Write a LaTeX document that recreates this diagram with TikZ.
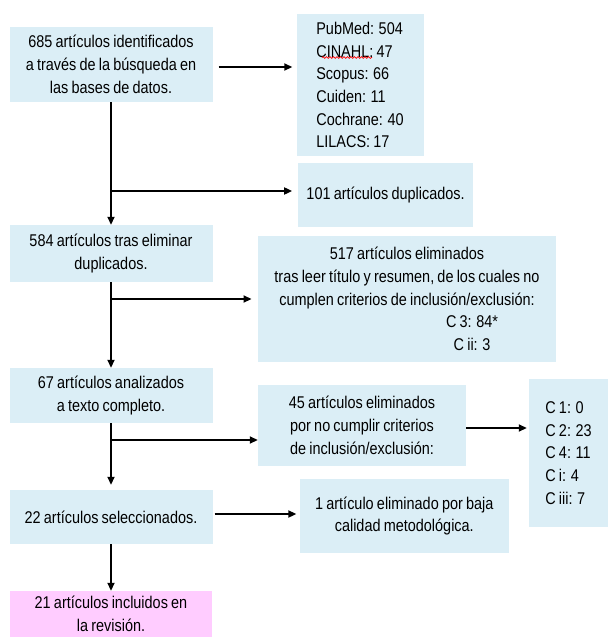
\documentclass[tikz,border=0pt]{standalone}
\usepackage{fontspec}
\setmainfont[FakeStretch=0.85, WordSpace=0.8]{Liberation Sans}
\usetikzlibrary{arrows.meta, decorations.pathmorphing}
\usepackage{xcolor}
\definecolor{boxblue}{RGB}{219,238,246}
\definecolor{boxpink}{RGB}{255,204,255}

\begin{document}
\begin{tikzpicture}[
  x=1pt, y=-1pt,
  box/.style={rectangle, fill=boxblue, inner sep=0pt, align=center,
              font=\fontsize{17pt}{22.7pt}\selectfont},
  arrow/.style={-{Triangle[length=8pt, width=7pt]}, line width=1.7pt}
]
  \useasboundingbox (0,0) rectangle (608,637);
  \node[box, minimum width=203pt, minimum height=75pt] (ident) at (111,64.5)
    {685 artículos identificados\\ a través de la búsqueda en\\ las bases de datos.};
  \node[box, align=left, minimum width=127pt, minimum height=142pt] (bases) at (360,85)
    {PubMed: 504\\ CINAHL: 47\\ Scopus: 66\\ Cuiden: 11\\ Cochrane: 40\\ LILACS: 17};
  \node[box, minimum width=174.5pt, minimum height=64pt] (dupl) at (385.6,195)
    {101 artículos duplicados.};
  \node[box, minimum width=203pt, minimum height=57pt] (tras) at (111,253.5)
    {584 artículos tras eliminar\\ duplicados.};
  \node[box, minimum width=297.5pt, minimum height=126pt] (elim517) at (407,299)
    {517 artículos eliminados\\ tras leer título y resumen, de los cuales no\\
     cumplen criterios de inclusión/exclusión:\\
     \hspace*{130pt}C 3: 84*\\ \hspace*{130pt}C ii: 3};
  \node[box, minimum width=203pt, minimum height=55pt] (texto) at (111,395.5)
    {67 artículos analizados\\ a texto completo.};
  \node[box, minimum width=208pt, minimum height=81pt] (elim45) at (362,425.5)
    {45 artículos eliminados\\ por no cumplir criterios\\ de inclusión/exclusión:};
  \node[box, align=left, minimum width=79pt, minimum height=148pt] (crit) at (568.5,453)
    {C 1: 0\\ C 2: 23\\ C 4: 11\\ C i: 4\\ C iii: 7};
  \node[box, minimum width=203pt, minimum height=54pt] (selec) at (111,517)
    {22 artículos seleccionados.};
  \node[box, minimum width=209.5pt, minimum height=74pt] (calidad) at (404.3,516)
    {1 artículo eliminado por baja\\ calidad metodológica.};
  \node[box, fill=boxpink, minimum width=202pt, minimum height=46pt] (incl) at (111,614)
    {21 artículos incluidos en\\ la revisión.};

  % spell-check mark under CINAHL
  \draw[red, line width=0.7pt, decorate,
        decoration={snake, amplitude=0.9pt, segment length=3.5pt}] (322,57.5) -- (372,57.5);

  \coordinate (d1) at ([yshift=4pt]dupl.west);
  \coordinate (b45) at ([yshift=-14.5pt]elim45.west);

  \draw[arrow, shorten <=6pt, shorten >=4pt] ([yshift=-2.5pt]ident.east) -- ([yshift=-2.5pt]ident.east -| bases.west);
  \draw[arrow] (ident.south) -- (tras.north);
  \draw[arrow, shorten >=6pt] (ident.south |- d1) -- (d1);
  \draw[arrow, shorten >=6.5pt] (tras.south |- elim517.west) -- (elim517.west);
  \draw[arrow] (tras.south) -- (texto.north);
  \draw[arrow] (texto.south |- b45) -- (b45);
  \draw[arrow, shorten >=2pt] ([yshift=-2.5pt]elim45.east) -- ([yshift=-2.5pt]elim45.east -| crit.west);
  \draw[arrow, shorten >=5pt] (texto.south) -- (selec.north);
  \draw[arrow, shorten <=2pt, shorten >=3pt] ([yshift=3pt]selec.east) -- ([yshift=3pt]selec.east -| calidad.west);
  \draw[arrow] (selec.south) -- (incl.north);
\end{tikzpicture}
\end{document}
